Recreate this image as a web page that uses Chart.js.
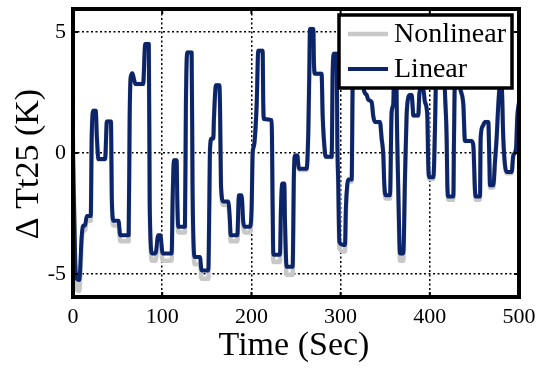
<!DOCTYPE html>
<html>
<head>
<meta charset="utf-8">
<style>
html, body { margin: 0; padding: 0; background: #fff; }
#wrap { width: 541px; height: 369px; }
</style>
</head>
<body>
<div id="wrap"><canvas id="c" width="541" height="369"></canvas></div>
<script src="https://cdn.jsdelivr.net/npm/chart.js@4.4.0/dist/chart.umd.min.js"></script>
<script>
var timeSec = [
    0, 2.5, 4.1, 7.1, 7.9, 9.8, 11.7, 13.5, 15.4, 19.9,
    21.0, 22.9, 25.5, 26.7, 28.6, 36.0, 38.0, 42.5, 43.6, 45.5,
    51.0, 53.0, 62.4, 63.5, 64.6, 66.5, 68.0, 70.0, 78.6, 81.0,
    85.0, 86.0, 88.7, 92.5, 95.5, 98.0, 100.5, 110.6, 111.7, 113.2,
    116.2, 116.9, 118.0, 125.5, 126.6, 128.1, 133.0, 134.0, 135.2, 136.7,
    142.3, 144.2, 151.7, 152.8, 153.6, 155.4, 157.3, 158.0, 160.3, 164.0,
    164.8, 165.9, 168.5, 174.1, 176.0, 176.7, 184.2, 186.0, 189.0, 190.9,
    192.8, 198.4, 200.3, 201.4, 202.9, 205.9, 207.7, 212.6, 213.3, 214.1,
    222.7, 223.8, 224.6, 232.0, 233.2, 234.6, 236.9, 237.6, 239.5, 246.2,
    247.7, 248.9, 251.5, 252.6, 253.7, 261.9, 263.8, 264.9, 265.7, 269.4,
    270.2, 271.3, 278.7, 279.9, 282.5, 283.6, 290.0, 291.1, 292.6, 295.6,
    296.3, 297.4, 298.6, 303.0, 304.9, 306.0, 307.5, 308.6, 312.4, 313.5,
    315.0, 324.0, 325.5, 329.2, 331.0, 334.8, 336.7, 338.5, 344.1, 346.0,
    347.9, 349.0, 350.5, 355.4, 357.2, 359.0, 360.5, 362.0, 363.5, 365.8,
    366.6, 370.3, 372.2, 374.0, 375.9, 377.8, 379.6, 380.8, 381.5, 387.1,
    388.2, 389.0, 392.7, 394.6, 397.2, 398.3, 399.5, 404.0, 405.8, 407.0,
    408.0, 416.0, 417.0, 418.9, 419.6, 420.8, 426.4, 427.1, 428.5, 432.5,
    433.8, 437.6, 439.4, 446.9, 448.8, 450.6, 451.5, 456.3, 457.0, 459.2,
    461.9, 465.6, 466.7, 467.5, 471.2, 473.1, 474.9, 476.8, 478.7, 480.5,
    482.4, 484.3, 486.2, 491.8, 493.6, 496.6, 498.1, 500.0
];
var linearK = [
    0.0, -4.5, -5.2, -5.25, -4.9, -3.4, -3.0, -3.0, -2.6, -2.6,
    0.7, 1.75, 1.75, 0.7, -0.25, -0.25, 1.3, 1.3, -2.0, -2.8,
    -2.8, -3.4, -3.4, 1.4, 3.1, 3.3, 3.1, 2.85, 2.85, 4.5,
    4.5, -2.15, -4.15, -4.15, -3.4, -3.4, -4.15, -4.15, -1.9, -0.3,
    -0.3, -1.9, -3.05, -3.05, 2.1, 4.15, 4.15, -1.3, -3.8, -4.3,
    -4.3, -4.85, -4.85, -2.15, 0.18, 0.6, 0.6, 1.4, 2.8, 2.8,
    2.0, -1.33, -2.0, -2.0, -2.85, -3.4, -3.4, -1.75, -1.75, -2.85,
    -3.05, -3.05, -2.2, 0.0, 0.3, 2.0, 4.23, 4.23, 2.0, 1.4,
    1.35, -2.15, -4.2, -4.2, -2.2, -1.26, -1.26, -2.7, -4.7, -4.7,
    -0.8, -0.1, -0.1, -0.5, -0.65, -0.65, 0.87, 3.3, 5.12, 5.12,
    3.6, 3.27, 3.27, 1.55, 0.0, -0.16, -0.16, 3.3, 4.1, 4.1,
    0.6, -1.3, -3.67, -3.8, -3.8, -2.2, -1.3, -1.1, -1.1, 2.8,
    3.9, 3.9, 2.7, 2.4, 2.2, 2.1, 1.5, 1.28, 1.28, 0.6,
    -0.1, -1.3, -1.75, -1.75, 1.7, 2.0, 3.8, 3.8, 0.5, -3.5,
    -4.15, -4.15, -1.0, 1.55, 2.3, 2.4, 2.4, 1.9, 1.55, 1.55,
    2.4, 2.6, 2.6, 2.1, 1.55, -0.5, -1.0, -1.0, 1.0, 3.3,
    3.8, 3.8, 2.5, 0.6, -1.2, -1.8, -1.8, 0.5, 3.6, 3.6,
    2.8, 2.0, 0.5, 0.5, 0.3, -1.5, -1.8, -1.8, 0.6, 1.1,
    1.28, 1.28, -0.2, -1.33, -1.33, -0.35, 0.6, 2.0, 2.8, 2.8,
    0.6, -0.5, -0.78, -0.78, -0.1, 0.15, 1.5, 2.1
];
var nonlinearK = [
    0.6, -4.85, -5.65, -5.7, -5.3, -3.65, -3.2, -3.2, -2.8, -2.8,
    0.7, 1.75, 1.75, 0.7, -0.27, -0.27, 1.3, 1.3, -2.15, -3.0,
    -3.0, -3.65, -3.65, 1.4, 3.1, 3.3, 3.1, 2.85, 2.85, 4.5,
    4.5, -2.3, -4.45, -4.45, -3.65, -3.65, -4.45, -4.45, -2.05, -0.32,
    -0.32, -2.05, -3.28, -3.28, 2.1, 4.15, 4.15, -1.4, -4.08, -4.6,
    -4.6, -5.2, -5.2, -2.3, 0.18, 0.6, 0.6, 1.4, 2.8, 2.8,
    2.0, -1.43, -2.15, -2.15, -3.05, -3.65, -3.65, -1.88, -1.88, -3.05,
    -3.28, -3.28, -2.36, 0.0, 0.3, 2.0, 4.23, 4.23, 2.0, 1.4,
    1.35, -2.3, -4.5, -4.5, -2.36, -1.35, -1.35, -2.9, -5.03, -5.03,
    -0.86, -0.11, -0.11, -0.54, -0.7, -0.7, 0.87, 3.3, 5.12, 5.12,
    3.6, 3.27, 3.27, 1.55, 0.0, -0.17, -0.17, 3.3, 4.1, 4.1,
    0.6, -1.4, -3.93, -4.07, -4.07, -2.36, -1.4, -1.18, -1.18, 2.8,
    3.9, 3.9, 2.7, 2.4, 2.2, 2.1, 1.5, 1.28, 1.28, 0.6,
    -0.11, -1.4, -1.88, -1.88, 1.7, 2.0, 3.8, 3.8, 0.5, -3.75,
    -4.45, -4.45, -1.07, 1.55, 2.3, 2.4, 2.4, 1.9, 1.55, 1.55,
    2.4, 2.6, 2.6, 2.1, 1.55, -0.54, -1.07, -1.07, 1.0, 3.3,
    3.8, 3.8, 2.5, 0.6, -1.29, -1.93, -1.93, 0.5, 3.6, 3.6,
    2.8, 2.0, 0.5, 0.5, 0.3, -1.6, -1.93, -1.93, 0.6, 1.1,
    1.28, 1.28, -0.21, -1.43, -1.43, -0.37, 0.6, 2.0, 2.8, 2.8,
    0.6, -0.54, -0.84, -0.84, -0.11, 0.15, 1.5, 2.1
];
var xTicks = [0, 100, 200, 300, 400, 500];
var yTicks = [-5, 0, 5];
var seriesNames = ["Nonlinear", "Linear"];

var serif = "'Liberation Serif', 'Times New Roman', serif";

function pairs(ys) {
    var out = [];
    for (var i = 0; i < timeSec.length; i++) out.push({x: timeSec[i], y: ys[i]});
    return out;
}

// box round the plot, with small inward ticks
var frame = {
    id: "frame",
    afterDatasetsDraw: function(chart) {
        var ctx = chart.ctx, a = chart.chartArea;
        var xs = chart.scales.x, ys = chart.scales.y;
        ctx.save();
        ctx.strokeStyle = "#000";
        ctx.lineWidth = 2;
        xTicks.forEach(function(v) {
            var px = xs.getPixelForValue(v);
            ctx.beginPath();
            ctx.moveTo(px, a.bottom); ctx.lineTo(px, a.bottom - 5);
            ctx.moveTo(px, a.top); ctx.lineTo(px, a.top + 5);
            ctx.stroke();
        });
        yTicks.forEach(function(v) {
            var py = ys.getPixelForValue(v);
            ctx.beginPath();
            ctx.moveTo(a.left, py); ctx.lineTo(a.left + 5, py);
            ctx.moveTo(a.right, py); ctx.lineTo(a.right - 5, py);
            ctx.stroke();
        });
        ctx.lineWidth = 4;
        ctx.strokeRect(a.left, a.top, a.right - a.left, a.bottom - a.top);
        ctx.restore();
    }
};

// legend box in the top right corner + axis titles
var labelsBox = {
    id: "labelsBox",
    afterDraw: function(chart) {
        var ctx = chart.ctx;
        var ds = chart.data.datasets;
        ctx.save();
        ctx.fillStyle = "#fff";
        ctx.fillRect(339, 15, 173, 73);
        ctx.strokeStyle = "#000";
        ctx.lineWidth = 3.5;
        ctx.strokeRect(339, 15, 173, 73);
        ctx.font = "28px " + serif;
        ctx.textBaseline = "middle";
        ctx.textAlign = "left";
        var rows = [34, 69];
        for (var i = 0; i < ds.length; i++) {
            ctx.strokeStyle = ds[i].borderColor;
            ctx.lineWidth = ds[i].borderWidth;
            ctx.beginPath();
            ctx.moveTo(348, rows[i]); ctx.lineTo(388, rows[i]);
            ctx.stroke();
            ctx.fillStyle = "#000";
            ctx.fillText(ds[i].label, 394, rows[i] + 1);
        }

        ctx.fillStyle = "#000";
        ctx.textAlign = "center";
        ctx.font = "34px " + serif;
        ctx.fillText("Time (Sec)", 294, 346);
        ctx.translate(29, 164);
        ctx.rotate(-Math.PI / 2);
        ctx.fillText("\u0394 Tt25 (K)", 0, 0);
        ctx.restore();
    }
};

new Chart(document.getElementById("c"), {
    type: "line",
    data: {
        datasets: [
            {
                label: seriesNames[0],
                data: pairs(nonlinearK),
                borderColor: "#c8c8c8",
                borderWidth: 4.5,
                order: 2
            },
            {
                label: seriesNames[1],
                data: pairs(linearK),
                borderColor: "#0c246a",
                borderWidth: 4,
                order: 1
            }
        ]
    },
    options: {
        responsive: false,
        animation: false,
        devicePixelRatio: 1,
        layout: { padding: { left: 0, top: 9, right: 22, bottom: 0 } },
        elements: {
            point: { radius: 0 },
            line: { cubicInterpolationMode: "monotone", borderCapStyle: "round", borderJoinStyle: "round" }
        },
        plugins: {
            legend: { display: false },
            tooltip: { enabled: false }
        },
        scales: {
            x: {
                type: "linear",
                min: 0,
                max: 500,
                afterBuildTicks: function(s) { s.ticks = xTicks.map(function(v) { return {value: v}; }); },
                afterFit: function(s) { s.height = 72; s.paddingLeft = 0; s.paddingRight = 0; },
                grid: { color: "#000", lineWidth: 1.5, drawTicks: false },
                border: { display: false, dash: [2, 2.5] },
                ticks: { color: "#000", padding: 7, maxRotation: 0, font: { family: serif, size: 22 } }
            },
            y: {
                min: -5.95,
                max: 5.95,
                afterBuildTicks: function(s) { s.ticks = yTicks.map(function(v) { return {value: v}; }); },
                afterFit: function(s) { s.width = 73; s.paddingTop = 0; s.paddingBottom = 0; },
                grid: { color: "#000", lineWidth: 1.5, drawTicks: false },
                border: { display: false, dash: [2, 2.5] },
                ticks: { color: "#000", padding: 7, font: { family: serif, size: 22 } }
            }
        }
    },
    plugins: [frame, labelsBox]
});
</script>
</body>
</html>
